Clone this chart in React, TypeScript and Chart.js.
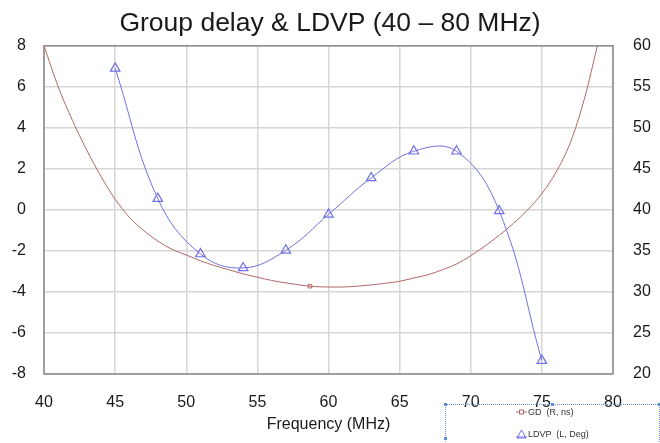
import React, { useEffect, useRef } from "react";
import { Chart, registerables } from "chart.js";

Chart.register(...registerables);

// LDVP (left axis, triangles)
const LDVP_FREQ = [45, 48, 51, 54, 57, 60, 63, 66, 69, 72, 75];
const LDVP_VALUES = [6.9, 0.55, -2.15, -2.83, -1.97, -0.22, 1.56, 2.86, 2.86, -0.05, -7.35];

// Group delay (right axis, ns)
const GD_FREQ = [40, 41, 42, 43, 44, 45, 46, 47, 48, 49, 50, 51, 52, 53, 54, 55, 56, 57, 58, 58.7, 60, 61, 62, 63, 64, 65, 66, 67, 68, 69, 70, 71, 72, 73, 74, 75, 76, 77, 78, 78.9];
const GD_VALUES = [60.0, 55.0, 50.9, 47.3, 44.1, 41.3, 39.1, 37.5, 36.2, 35.2, 34.5, 33.8, 33.2, 32.7, 32.2, 31.8, 31.4, 31.1, 30.85, 30.7, 30.6, 30.6, 30.7, 30.85, 31.05, 31.3, 31.7, 32.1, 32.7, 33.4, 34.4, 35.6, 36.9, 38.35, 40.0, 42.0, 44.6, 48.2, 53.6, 60.0];
const GD_MARKER_FREQ = 58.7;

const X_TICKS = { min: 40, max: 80, step: 5 };
const LEFT_TICKS = { min: -8, max: 8, step: 2 };
const RIGHT_TICKS = { min: 20, max: 60, step: 5 };

const TITLE = "Group delay & LDVP (40 \u2013 80 MHz)";
const X_TITLE = "Frequency (MHz)";
const GD_LABEL = "GD  (R, ns)";
const LDVP_LABEL = "LDVP  (L, Deg)";

const FONT = "'Liberation Sans', Arial, sans-serif";
const BLUE = "rgb(112,112,228)";
const RED = "rgb(176,104,104)";

const borderPlugin = {
  id: "plotBorder",
  beforeDatasetsDraw(chart: any) {
    const { ctx, chartArea } = chart;
    ctx.save();
    ctx.strokeStyle = "#8a8a8a";
    ctx.lineWidth = 1.5;
    ctx.strokeRect(chartArea.left, chartArea.top, chartArea.right - chartArea.left, chartArea.bottom - chartArea.top);
    ctx.restore();
  },
};

export default function App() {
  const ref = useRef<HTMLCanvasElement>(null);
  useEffect(() => {
    document.body.style.margin = "0";
    Chart.defaults.font.family = FONT;
    const chart = new Chart(ref.current as HTMLCanvasElement, {
      type: "line",
      data: {
        datasets: [
          {
            label: GD_LABEL,
            data: GD_FREQ.map((f, i) => ({ x: f, y: GD_VALUES[i] })),
            yAxisID: "y2",
            borderColor: RED,
            borderWidth: 1,
            cubicInterpolationMode: "monotone",
            pointStyle: "rect",
            pointRadius: (c: any) => (GD_FREQ[c.dataIndex] === GD_MARKER_FREQ ? 2.5 : 0),
            pointBackgroundColor: "rgba(255,255,255,0)",
            pointBorderColor: RED,
            pointBorderWidth: 1,
          },
          {
            label: LDVP_LABEL,
            data: LDVP_FREQ.map((f, i) => ({ x: f, y: LDVP_VALUES[i] })),
            yAxisID: "y",
            borderColor: BLUE,
            borderWidth: 1,
            tension: 0.4,
            pointStyle: "triangle",
            pointRadius: 5.5,
            pointBackgroundColor: "rgba(255,255,255,0)",
            pointBorderColor: BLUE,
            pointBorderWidth: 1.2,
          },
        ],
      },
      options: {
        responsive: false,
        animation: false,
        layout: { padding: { bottom: 9 } },
        plugins: {
          legend: { display: false },
          tooltip: { enabled: false },
          title: {
            display: true,
            text: TITLE,
            color: "#1a1a1a",
            font: { size: 26.5, weight: "normal", family: FONT },
            padding: { top: 8, bottom: 6 },
          },
        },
        scales: {
          x: {
            type: "linear",
            min: X_TICKS.min,
            max: X_TICKS.max,
            ticks: { stepSize: X_TICKS.step, padding: 19, color: "#1a1a1a", font: { size: 16 }, maxRotation: 0 },
            grid: { color: "#d6d6d6", lineWidth: 1.5, drawTicks: false },
            border: { display: false },
            title: { display: true, text: X_TITLE, color: "#1a1a1a", font: { size: 16 }, padding: { top: 3, bottom: 0 } },
            afterFit: (s: any) => { s.height = 60; },
          },
          y: {
            position: "left",
            min: LEFT_TICKS.min,
            max: LEFT_TICKS.max,
            ticks: { stepSize: LEFT_TICKS.step, padding: 18, color: "#1a1a1a", font: { size: 16 } },
            grid: { color: "#d6d6d6", lineWidth: 1.5, drawTicks: false },
            border: { display: false },
            afterFit: (s: any) => { s.width = 44; },
          },
          y2: {
            position: "right",
            min: RIGHT_TICKS.min,
            max: RIGHT_TICKS.max,
            ticks: { stepSize: RIGHT_TICKS.step, padding: 20, color: "#1a1a1a", font: { size: 16 } },
            grid: { display: false, drawTicks: false },
            border: { display: false },
            afterFit: (s: any) => { s.width = 47; },
          },
        },
      },
      plugins: [borderPlugin],
    } as any);
    return () => chart.destroy();
  }, []);

  const handle = (left: number, top: number) => (
    <div style={{ position: "absolute", left: left - 1.5, top: top - 1.5, width: 3, height: 3, background: "rgb(90,140,220)" }} />
  );

  return (
    <div style={{ position: "relative", width: 660, height: 443, overflow: "hidden", background: "#fff" }}>
      <canvas ref={ref} width={660} height={443} style={{ display: "block" }} />
      <div
        style={{
          position: "absolute",
          left: 445,
          top: 404,
          width: 213,
          height: 60,
          border: "1px dotted rgb(110,150,215)",
          fontFamily: FONT,
          fontSize: 9,
          color: "#333",
        }}
      >
        <div style={{ position: "absolute", left: 70, top: 2, display: "flex", alignItems: "center", whiteSpace: "pre" }}>
          <svg width="11" height="8" style={{ marginRight: 1 }}>
            <line x1="0" y1="4" x2="11" y2="4" stroke={RED} strokeWidth="1" />
            <rect x="3.5" y="2" width="4" height="4" fill="#fff" stroke={RED} strokeWidth="1" />
          </svg>
          <span>{GD_LABEL}</span>
        </div>
        <div style={{ position: "absolute", left: 70, top: 24, display: "flex", alignItems: "center", whiteSpace: "pre" }}>
          <svg width="11" height="10" style={{ marginRight: 1 }}>
            <line x1="0" y1="8" x2="11" y2="8" stroke={BLUE} strokeWidth="1" />
            <polygon points="5.5,1 10,9 1,9" fill="none" stroke={BLUE} strokeWidth="1" />
          </svg>
          <span>{LDVP_LABEL}</span>
        </div>
      </div>
      {handle(445, 404)}
      {handle(552, 404)}
      {handle(659, 404)}
      {handle(445, 438)}
    </div>
  );
}
